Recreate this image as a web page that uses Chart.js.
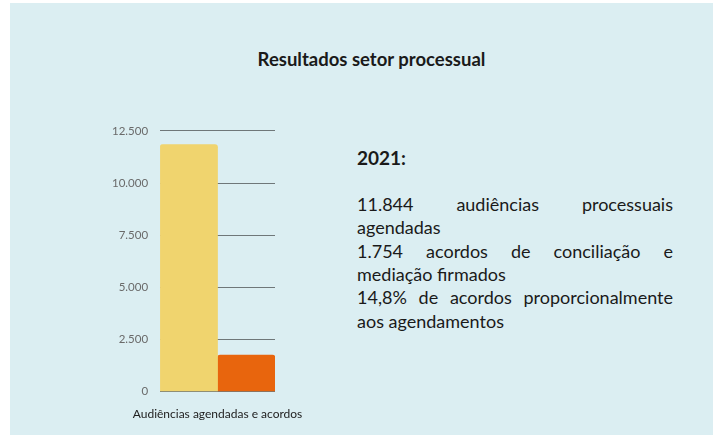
<!DOCTYPE html>
<html>
<head>
<meta charset="utf-8">
<script src="https://cdn.jsdelivr.net/npm/chart.js@4"></script>
<style>
  html, body { margin: 0; padding: 0; background: #ffffff; }
  #panel {
    position: absolute; left: 10px; top: 3px; width: 703px; height: 432px;
    background: #dbeef2; font-family: Lato, sans-serif; color: #1a1a1a;
  }
  #title {
    position: absolute; left: 10px; width: 703px; top: 45px; text-align: center;
    font-weight: bold; font-size: 18.5px;
  }
  #chartBox { position: absolute; left: 90px; top: 109px; width: 215px; height: 316px; }
  #notes { position: absolute; left: 347px; top: 143px; width: 316px; font-size: 18px; line-height: 23.4px; }
  #notes p { margin: 0; text-align: justify; }
  #notes .year { font-weight: bold; font-size: 19px; margin-bottom: 23.4px; }
</style>
</head>
<body>
<div id="panel">
  <div id="title">Resultados setor processual</div>
  <div id="chartBox"><canvas id="chart"></canvas></div>
  <div id="notes">
    <p class="year">2021:</p>
    <p>11.844 audiências processuais agendadas</p>
    <p>1.754 acordos de conciliação e mediação firmados</p>
    <p>14,8% de acordos proporcionalmente aos agendamentos</p>
  </div>
</div>
<script>
//Category and series values
const categories = ['Audiências agendadas e acordos'];
const seriesNames = ['Audiências agendadas', 'Acordos firmados'];
const agendadas = [11844];
const acordos = [1754];
//y axis ticks
const tickValues = [0, 2500, 5000, 7500, 10000, 12500];

const fmt = v => v.toLocaleString('pt-BR');

new Chart(document.getElementById('chart'), {
  type: 'bar',
  data: {
    labels: categories,
    datasets: [
      { label: seriesNames[0], data: agendadas, backgroundColor: '#f0d46e', borderRadius: 3 },
      { label: seriesNames[1], data: acordos, backgroundColor: '#e8650d', borderRadius: 3 },
    ],
  },
  options: {
    responsive: true,
    maintainAspectRatio: false,
    animation: false,
    categoryPercentage: 1,
    barPercentage: 1,
    layout: { padding: { top: 10, left: 0, right: 40 } },
    plugins: { legend: { display: false }, tooltip: false },
    scales: {
      x: {
        grid: { display: false },
        border: { display: false },
        ticks: { color: '#222', font: { family: 'Lato', size: 12 }, padding: 7 },
        //let the long category label hang over the sides
        afterFit: axis => { axis.paddingLeft = 0; axis.paddingRight = 0; },
      },
      y: {
        min: 0,
        max: 12500,
        afterBuildTicks: axis => { axis.ticks = tickValues.map(v => ({ value: v })); },
        grid: { color: '#6f7779', drawTicks: false },
        border: { display: false },
        ticks: { color: '#6a6a6a', font: { family: 'Lato', size: 11.5 }, padding: 12, callback: v => fmt(v) },
      },
    },
  },
});
</script>
</body>
</html>
